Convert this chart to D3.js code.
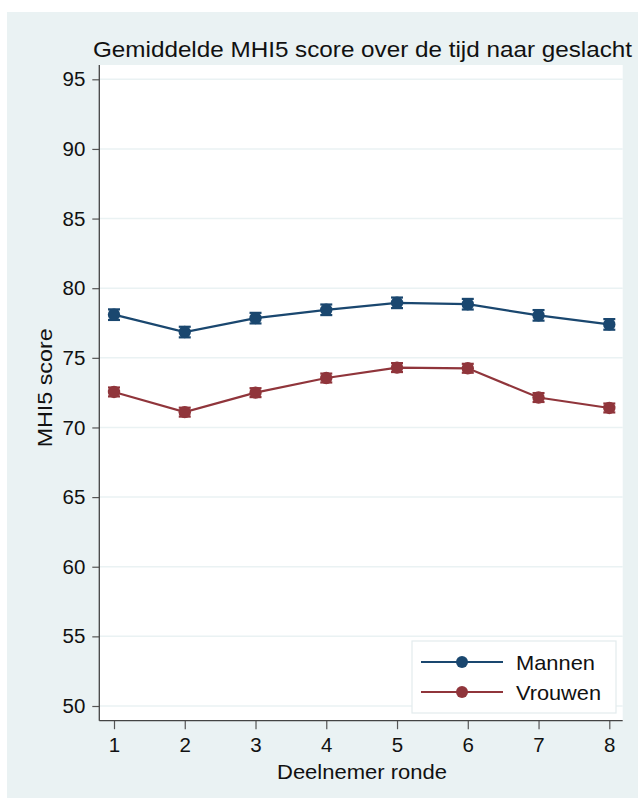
<!DOCTYPE html>
<html><head><meta charset="utf-8">
<script src="https://cdn.jsdelivr.net/npm/d3@7"></script>
<style>body{margin:0;background:#fff}svg{display:block}text{font-family:"Liberation Sans",Arial,sans-serif;fill:#111}</style>
</head><body><svg id="c" width="638" height="798"></svg>
<script>
const rounds = [1,2,3,4,5,6,7,8];
const mannen = [78.1,76.85,77.85,78.45,78.95,78.85,78.05,77.4];
const vrouwen = [72.55,71.1,72.5,73.55,74.3,74.25,72.15,71.4];
const mannenCI = [0.38,0.38,0.38,0.38,0.38,0.38,0.38,0.38];
const vrouwenCI = [0.32,0.32,0.32,0.32,0.32,0.32,0.32,0.32];
const yTicks = [50,55,60,65,70,75,80,85,90,95];
const seriesNames = ["Mannen","Vrouwen"];
const colors = ["#1a476f","#90353b"];
const title = "Gemiddelde MHI5 score over de tijd naar geslacht";
const xTitle = "Deelnemer ronde";
const yTitle = "MHI5 score";

const svg = d3.select("#c");
svg.append("rect").attr("x",7).attr("y",12).attr("width",631).attr("height",786).attr("fill","#eaf2f3");
const L=99.3, R=622.7, T=65, B=720.7;
svg.append("rect").attr("x",L).attr("y",T).attr("width",R-L).attr("height",B-T).attr("fill","#fff");

const x = d3.scaleLinear().domain([1,8]).range([114,609.3]);
const y = d3.scaleLinear().domain([50,95]).range([706,79.3]);

// grid
svg.append("g").selectAll("line").data(yTicks).join("line")
  .attr("x1",L).attr("x2",R).attr("y1",d=>y(d)).attr("y2",d=>y(d))
  .attr("stroke","#eaf2f3").attr("stroke-width",1.5);

// axes
const ya = svg.append("g").attr("transform",`translate(${L},0)`)
  .call(d3.axisLeft(y).tickValues(yTicks).tickFormat(d3.format("d")).tickSize(7).tickPadding(7));
const xa = svg.append("g").attr("transform",`translate(0,${B})`)
  .call(d3.axisBottom(x).tickValues(rounds).tickFormat(d3.format("d")).tickSize(8.5).tickPadding(8));
[ya,xa].forEach(a=>{
  a.select(".domain").remove();
  a.selectAll(".tick line").attr("stroke","#555").attr("stroke-width",1.2);
  a.selectAll(".tick text").attr("font-size",20.5).attr("fill","#111").style("font-family","Liberation Sans, Arial, sans-serif");
});
svg.append("line").attr("x1",L).attr("x2",L).attr("y1",T).attr("y2",B).attr("stroke","#444").attr("stroke-width",1.3);
svg.append("line").attr("x1",L).attr("x2",R).attr("y1",B).attr("y2",B).attr("stroke","#444").attr("stroke-width",1.3);

// series
const data = [mannen, vrouwen];
const cis = [mannenCI, vrouwenCI];
const line = d3.line().x((d,i)=>x(rounds[i])).y(d=>y(d));
data.forEach((vals,si)=>{
  const g = svg.append("g");
  g.append("path").datum(vals).attr("d",line).attr("fill","none").attr("stroke",colors[si]).attr("stroke-width",2.2);
  vals.forEach((v,i)=>{
    const cx=x(rounds[i]), lo=y(v-cis[si][i]), hi=y(v+cis[si][i]);
    g.append("line").attr("x1",cx).attr("x2",cx).attr("y1",lo).attr("y2",hi).attr("stroke",colors[si]).attr("stroke-width",2);
    [lo,hi].forEach(yy=>g.append("line").attr("x1",cx-6).attr("x2",cx+6).attr("y1",yy).attr("y2",yy).attr("stroke",colors[si]).attr("stroke-width",2.2));
    g.append("circle").attr("cx",cx).attr("cy",y(v)).attr("r",6.2).attr("fill",colors[si]);
  });
});

// legend
const lg = svg.append("g");
lg.append("rect").attr("x",412).attr("y",641).attr("width",204).attr("height",72).attr("fill","#fff").attr("stroke","#e3ebed").attr("stroke-width",1.2);
seriesNames.forEach((n,i)=>{
  const yy = 662 + i*30;
  lg.append("line").attr("x1",421).attr("x2",503).attr("y1",yy).attr("y2",yy).attr("stroke",colors[i]).attr("stroke-width",2.2);
  lg.append("circle").attr("cx",462).attr("cy",yy).attr("r",6).attr("fill",colors[i]);
  lg.append("text").attr("x",516).attr("y",yy+7.5).attr("font-size",21).attr("textLength",i==0?79:85).attr("lengthAdjust","spacingAndGlyphs").text(n);
});

// titles
svg.append("text").attr("x",93).attr("y",57).attr("font-size",21.5).attr("textLength",539).attr("lengthAdjust","spacingAndGlyphs").text(title);
svg.append("text").attr("x",(L+R)/2+1).attr("y",779).attr("text-anchor","middle").attr("font-size",21).attr("textLength",170).attr("lengthAdjust","spacingAndGlyphs").text(xTitle);
svg.append("text").attr("transform",`translate(52,${(T+B)/2-5}) rotate(-90)`).attr("text-anchor","middle").attr("font-size",19.5).attr("textLength",119).attr("lengthAdjust","spacingAndGlyphs").text(yTitle);
</script></body></html>
